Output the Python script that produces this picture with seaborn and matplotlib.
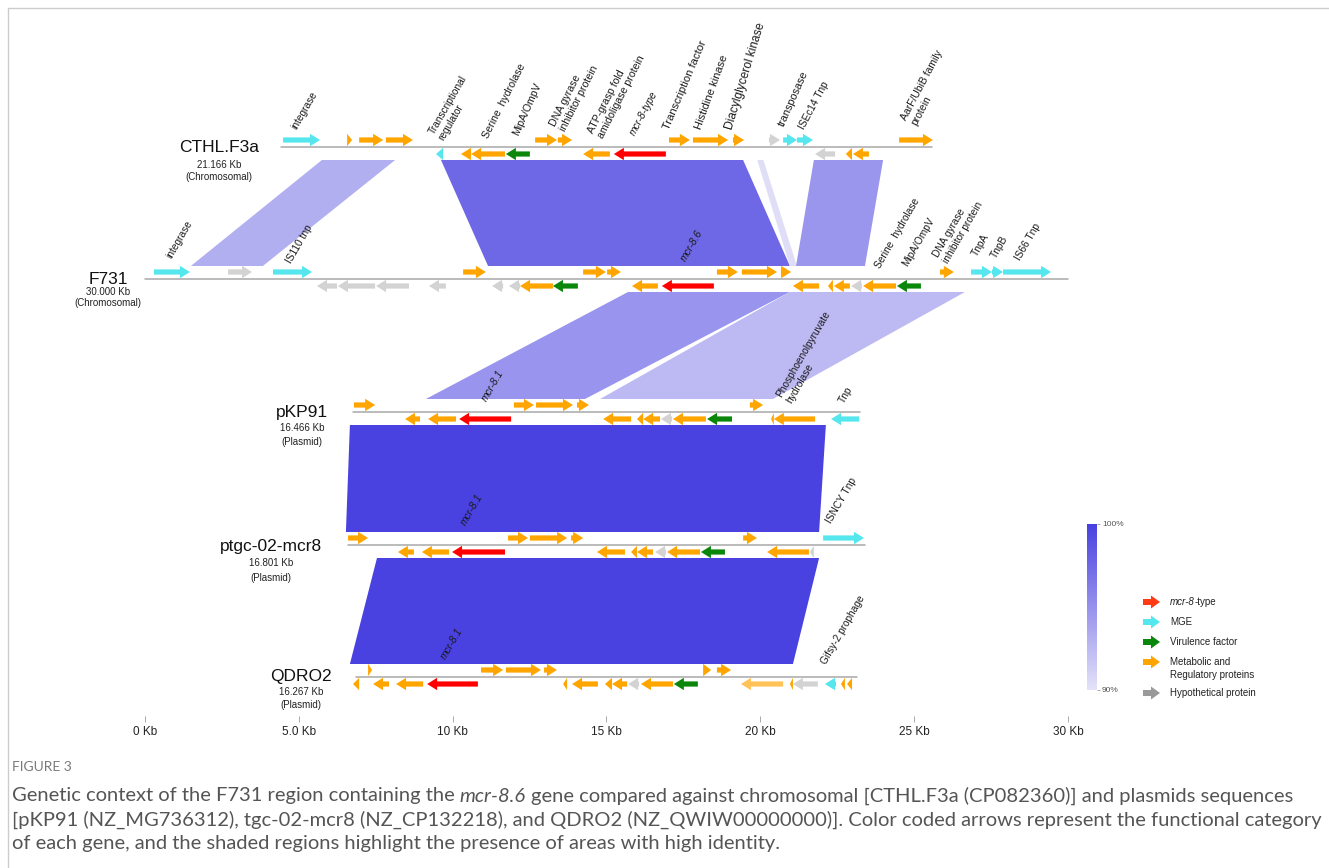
import matplotlib.pyplot as plt
import seaborn as sns
from matplotlib.patches import Polygon
from matplotlib.lines import Line2D
from matplotlib.cm import ScalarMappable
from matplotlib.colors import Normalize

# ---------------- data ----------------
track_names = ['CTHL.F3a', 'F731', 'pKP91', 'ptgc-02-mcr8', 'QDRO2']
track_lengths = [21.166, 30.000, 16.466, 16.801, 16.267]
track_kinds = ['Chromosomal', 'Chromosomal', 'Plasmid', 'Plasmid', 'Plasmid']

# genes: (start Kb, end Kb, strand, category)
genes_cthl = [
    (4.49, 5.69, 1, 'mge'), (6.57, 6.73, 1, 'met'), (6.96, 7.74, 1, 'met'),
    (7.83, 8.71, 1, 'met'), (9.46, 9.69, -1, 'mge'), (10.27, 10.60, -1, 'met'),
    (10.60, 11.70, -1, 'met'), (11.73, 12.51, -1, 'vir'), (12.68, 13.39, 1, 'met'),
    (13.42, 13.88, 1, 'met'), (14.24, 15.11, -1, 'met'), (15.24, 16.93, -1, 'mcr'),
    (17.03, 17.71, 1, 'met'), (17.81, 18.95, 1, 'met'), (19.11, 19.47, 1, 'met'),
    (20.28, 20.64, 1, 'hyp'), (20.74, 21.19, 1, 'mge'), (21.19, 21.71, 1, 'mge'),
    (21.78, 22.43, -1, 'hyp'), (22.78, 22.98, -1, 'met'), (23.01, 23.53, -1, 'met'),
    (24.51, 25.61, 1, 'met'),
]
genes_f731 = [
    (0.29, 1.46, 1, 'mge'), (2.70, 3.48, 1, 'hyp'), (4.16, 5.43, 1, 'mge'),
    (5.59, 6.24, -1, 'hyp'), (6.27, 7.48, -1, 'hyp'), (7.51, 8.58, -1, 'hyp'),
    (9.23, 9.78, -1, 'hyp'), (10.34, 11.08, 1, 'met'), (11.28, 11.64, -1, 'hyp'),
    (11.83, 12.19, -1, 'hyp'), (12.19, 13.26, -1, 'met'), (13.26, 14.07, -1, 'vir'),
    (14.24, 14.98, 1, 'met'), (15.02, 15.47, 1, 'met'), (15.83, 16.67, -1, 'met'),
    (16.80, 18.49, -1, 'mcr'), (18.59, 19.27, 1, 'met'), (19.40, 20.54, 1, 'met'),
    (20.67, 21.00, 1, 'met'), (21.06, 21.91, -1, 'met'), (22.20, 22.36, -1, 'met'),
    (22.39, 22.91, -1, 'met'), (22.95, 23.30, -1, 'hyp'), (23.34, 24.41, -1, 'met'),
    (24.44, 25.22, -1, 'vir'), (25.84, 26.29, 1, 'met'), (26.85, 27.53, 1, 'mge'),
    (27.53, 27.89, 1, 'mge'), (27.89, 29.45, 1, 'mge'),
]
genes_pkp91 = [
    (6.79, 7.48, 1, 'met'), (8.45, 8.94, -1, 'met'), (9.20, 10.11, -1, 'met'),
    (10.21, 11.90, -1, 'mcr'), (11.99, 12.64, 1, 'met'), (12.71, 13.91, 1, 'met'),
    (14.04, 14.43, 1, 'met'), (14.89, 15.80, -1, 'met'), (15.99, 16.19, -1, 'met'),
    (16.19, 16.74, -1, 'met'), (16.77, 17.13, -1, 'hyp'), (17.16, 18.23, -1, 'met'),
    (18.27, 19.08, -1, 'vir'), (19.66, 20.09, 1, 'met'), (20.35, 20.44, -1, 'met'),
    (20.44, 21.78, -1, 'met'), (22.30, 23.21, -1, 'mge'),
]
genes_ptgc = [
    (6.60, 7.25, 1, 'met'), (8.22, 8.74, -1, 'met'), (9.00, 9.88, -1, 'met'),
    (9.98, 11.70, -1, 'mcr'), (11.80, 12.45, 1, 'met'), (12.51, 13.72, 1, 'met'),
    (13.85, 14.24, 1, 'met'), (14.69, 15.60, -1, 'met'), (15.80, 15.99, -1, 'met'),
    (15.99, 16.51, -1, 'met'), (16.58, 16.93, -1, 'hyp'), (16.97, 18.04, -1, 'met'),
    (18.07, 18.85, -1, 'vir'), (19.44, 19.89, 1, 'met'), (20.22, 21.58, -1, 'met'),
    (21.61, 21.74, -1, 'hyp'), (22.04, 23.37, 1, 'mge'),
]
genes_qdro2 = [
    (6.76, 6.96, -1, 'met'), (7.25, 7.38, 1, 'met'), (7.41, 7.93, -1, 'met'),
    (8.16, 9.04, -1, 'met'), (9.17, 10.82, -1, 'mcr'), (10.92, 11.64, 1, 'met'),
    (11.73, 12.87, 1, 'met'), (12.97, 13.39, 1, 'met'), (13.59, 13.72, -1, 'met'),
    (13.88, 14.72, -1, 'met'), (14.95, 15.18, -1, 'met'), (15.18, 15.67, -1, 'met'),
    (15.70, 16.06, -1, 'hyp'), (16.12, 17.16, -1, 'met'), (17.19, 17.97, -1, 'vir'),
    (18.14, 18.40, 1, 'met'), (18.59, 19.05, 1, 'met'), (19.37, 20.74, -1, 'met_light'),
    (20.96, 21.06, -1, 'met'), (21.06, 21.87, -1, 'hyp'), (22.10, 22.46, -1, 'mge'),
    (22.62, 22.75, -1, 'met'), (22.82, 22.98, -1, 'met'),
]
track_genes = [genes_cthl, genes_f731, genes_pkp91, genes_ptgc, genes_qdro2]

# gene labels: (text, position in Kb, italic)
labels_cthl = [
    ('integrase', 4.97, False), ('Transcriptional\nregulator', 9.75, False),
    ('Serine  hydrolase', 11.21, False), ('MipA/OmpV', 12.19, False),
    ('DNA gyrase\ninhibitor protein', 13.72, False),
    ('ATP-grasp fold\namidoligase protein', 14.95, False),
    ('mcr-8-type', 15.99, True), ('Transcription factor', 17.10, False),
    ('Histidine kinase', 18.14, False), ('Diacylglycerol kinase', 19.18, False),
    ('transposase', 20.83, False), ('ISEc14 Tnp', 21.48, False),
    ('AarF/UbiB family\nprotein', 25.12, False),
]
labels_f731 = [
    ('integrase', 0.91, False), ('IS110 tnp', 4.81, False), ('mcr-8.6', 17.65, True),
    ('Serine  hydrolase', 23.95, False), ('MipA/OmpV', 24.83, False),
    ('DNA gyrase\ninhibitor protein', 26.16, False), ('TnpA', 27.11, False),
    ('TnpB', 27.72, False), ('IS66 Tnp', 28.50, False),
]
labels_pkp91 = [
    ('mcr-8.1', 11.18, True), ('Phosphoenolpyruvate\nhydrolase', 21.06, False),
    ('Tnp', 22.78, False),
]
labels_ptgc = [('mcr-8.1', 10.47, True), ('ISNCY Tnp', 22.36, False)]
labels_qdro2 = [('mcr-8.1', 9.82, True), ('Gifsy-2 prophage', 22.20, False)]
track_labels = [labels_cthl, labels_f731, labels_pkp91, labels_ptgc, labels_qdro2]

# shaded identity blocks: (upper track, top start, top end, bottom start, bottom end, identity %)
blocks = [
    (0, 5.75, 8.13, 1.49, 3.83, 93.2),
    (0, 9.62, 19.44, 11.15, 20.96, 97.5),
    (0, 19.90, 20.10, 20.96, 21.19, 90.3),
    (0, 21.74, 23.99, 21.16, 23.40, 94.7),
    (1, 15.70, 20.96, 9.13, 14.30, 94.8),
    (1, 20.96, 26.65, 14.79, 20.41, 92.5),
    (2, 6.66, 22.13, 6.53, 21.91, 99.9),
    (3, 7.54, 21.91, 6.66, 21.06, 99.9),
]

scale_ticks = [0, 5, 10, 15, 20, 25, 30]
scale_labels = ['0 Kb', '5.0 Kb', '10 Kb', '15 Kb', '20 Kb', '25 Kb', '30 Kb']

legend_cats = ['mcr', 'mge', 'vir', 'met', 'hyp']
legend_texts = [[('mcr-8', True), ('-type', False)], [('MGE', False)],
                [('Virulence factor', False)],
                [('Metabolic and\nRegulatory proteins', False)],
                [('Hypothetical protein', False)]]

caption_lines = [
    [('Genetic context of the F731 region containing the ', False), ('mcr-8.6', True),
     (' gene compared against chromosomal [CTHL.F3a (CP082360)] and plasmids sequences', False)],
    [('[pKP91 (NZ_MG736312), tgc-02-mcr8 (NZ_CP132218), and QDRO2 (NZ_QWIW00000000)]. '
      'Color coded arrows represent the functional category', False)],
    [('of each gene, and the shaded regions highlight the presence of areas with high identity.', False)],
]

# ---------------- style / layout ----------------
sns.set_theme(style='white')
plt.rcParams['font.family'] = ['Liberation Sans', 'DejaVu Sans']

gene_colors = {'mcr': '#FF0000', 'mge': '#55E6EE', 'vir': '#0A870A',
               'met': '#FFA500', 'hyp': '#D3D3D3', 'met_light': '#FFC35A'}
legend_colors = {'mcr': '#FF3A14', 'mge': '#55E6EE', 'vir': '#0A870A',
                 'met': '#FFA500', 'hyp': '#999999'}
ident_cmap = sns.blend_palette(['#E4E2F8', '#4840E0'], as_cmap=True)
ident_norm = Normalize(90, 100)

W, H = 1329, 868
X0, PPK = 145, 923 / 30          # pixel of 0 Kb, pixels per Kb
baselines = [147, 279, 412, 545, 677]
label_rise = [[16, 5, 7, 10, 14, 7, 10, 16, 16, 16, 19, 16, 20],
              [19, 14, 16, 9, 11, 14, 21, 19, 17],
              [9, 7, 7], [18, 20], [16, 11]]
# the upper track's labels are set a little steeper / larger in the original
label_rot = [[60, 60, 63, 66, 63, 63, 62, 67, 70, 73, 66, 62, 62],
             [60] * 9, [60] * 3, [60] * 2, [60] * 2]
label_size = [[7.3, 7.3, 7.6, 7.6, 7.6, 7.6, 7.3, 8.0, 8.0, 8.6, 7.8, 7.3, 7.5],
              [7.3] * 9, [7.3] * 3, [7.3] * 2, [7.3] * 2]
name_pos = [(219, 147), (108, 279), (302, 412), (271, 547), (301, 677)]
name_sub = [(18, 30), (13, 24), (16, 30), (16, 31), (15, 28)]

fig = plt.figure(figsize=(W / 100, H / 100), dpi=100)
ax = fig.add_axes([0, 0, 1, 1])
ax.set_xlim(-X0 / PPK, (W - X0) / PPK)
ax.set_ylim(H, 0)
ax.axis('off')
pax = fig.add_axes([0, 0, 1, 1])
pax.set_xlim(0, W)
pax.set_ylim(H, 0)
pax.axis('off')


def arrow_points(x0, x1, strand, yc, head_len, body=2.6, head=6.2):
    hl = min(head_len, x1 - x0)
    if strand > 0:
        tail, base, tip = x0, x1 - hl, x1
    else:
        tail, base, tip = x1, x0 + hl, x0
    return [(tail, yc - body), (base, yc - body), (base, yc - head), (tip, yc),
            (base, yc + head), (base, yc + body), (tail, yc + body)]


# homology blocks
for up, ts, te, bs, be, ident in blocks:
    top = baselines[up] + 13
    bot = baselines[up + 1] - 13
    ax.add_patch(Polygon([(ts, top), (te, top), (be, bot), (bs, bot)], closed=True,
                         facecolor=ident_cmap(ident_norm(ident)), edgecolor='none', zorder=1))

# tracks
for i, name in enumerate(track_names):
    y = baselines[i]
    start = 15 - track_lengths[i] / 2
    ax.plot([start, start + track_lengths[i]], [y, y], color='#a8a8a8', lw=1.1, zorder=2)
    for g0, g1, strand, cat in track_genes[i]:
        pts = arrow_points(g0, g1, strand, y - 7 * strand, 10 / PPK)
        ax.add_patch(Polygon(pts, closed=True, facecolor=gene_colors[cat],
                             edgecolor='none', zorder=3))
    for k, (text, kb, ital) in enumerate(track_labels[i]):
        ax.text(kb, y - label_rise[i][k], text, rotation=label_rot[i][k],
                rotation_mode='anchor', ha='left', va='bottom',
                fontsize=label_size[i][k], style='italic' if ital else 'normal',
                color='#1a1a1a', linespacing=1.15, zorder=4)
    nx, ny = name_pos[i]
    pax.text(nx, ny, name, ha='center', va='center', fontsize=12.5, color='#111111')
    pax.text(nx, ny + name_sub[i][0], f'{track_lengths[i]:.3f} Kb', ha='center',
             va='center', fontsize=7, color='#222222')
    pax.text(nx, ny + name_sub[i][1], f'({track_kinds[i]})', ha='center',
             va='center', fontsize=7, color='#222222')

# scale
sax = fig.add_axes([0, 1 - 716 / H, 1, 1e-4])
sax.set_xlim(-X0 / PPK, (W - X0) / PPK)
sax.set_xticks(scale_ticks)
sax.set_xticklabels(scale_labels)
sax.set_yticks([])
for s in sax.spines.values():
    s.set_visible(False)
sax.patch.set_visible(False)
sax.tick_params(axis='x', bottom=True, direction='out', length=4, width=0.7,
                color='#aaaaaa', labelsize=8.5, labelcolor='#222222', pad=3)

# colorbar
cax = fig.add_axes([1087 / W, 1 - 690 / H, 10 / W, 166 / H])
cb = fig.colorbar(ScalarMappable(norm=ident_norm, cmap=ident_cmap), cax=cax, ticks=[90, 100])
cb.ax.set_yticklabels(['90%', '100%'])
cb.outline.set_visible(False)
cax.tick_params(axis='y', right=True, length=2, width=0.6, color='#999999',
                labelsize=6, labelcolor='#555555', pad=1.5)

renderer = fig.canvas.get_renderer()


def draw_runs(x, y, runs, **kw):
    probe_a = pax.text(0, 0, 'a a', **kw)
    probe_b = pax.text(0, 0, 'aa', **kw)
    space = (probe_a.get_window_extent(renderer).width
             - probe_b.get_window_extent(renderer).width)
    probe_a.remove()
    probe_b.remove()
    for text, ital in runs:
        lead = len(text) - len(text.lstrip(' '))
        trail = len(text) - len(text.rstrip(' '))
        x += lead * space
        t = pax.text(x, y, text.strip(' '), style='italic' if ital else 'normal', **kw)
        x += t.get_window_extent(renderer).width + trail * space
    return x


# legend
legend_y = [602, 622, 642, 662, 693]
for cat, runs, ly in zip(legend_cats, legend_texts, legend_y):
    pax.add_patch(Polygon(arrow_points(1143, 1160, 1, ly, 9, body=3, head=6.5),
                          closed=True, facecolor=legend_colors[cat], edgecolor='none'))
    n_lines = runs[0][0].count('\n') + 1
    draw_runs(1170, ly + 6.5 * (n_lines - 1), runs, ha='left', va='center',
              fontsize=7, color='#222222', linespacing=1.35)

# caption
pax.text(12, 767, 'FIGURE 3', ha='left', va='center', fontsize=10, color='#7a7a7a',
         family=['Lato', 'DejaVu Sans'])
for k, runs in enumerate(caption_lines):
    draw_runs(12, 796 + 24 * k, runs, ha='left', va='center', fontsize=14.5,
              color='#555555', family=['Lato', 'DejaVu Sans'])

# frame lines
fig.add_artist(Line2D([8 / W, 8 / W], [0, 1 - 8 / H], color='#cccccc', lw=1))
fig.add_artist(Line2D([8 / W, 1], [1 - 8 / H, 1 - 8 / H], color='#cccccc', lw=1))

fig.savefig('out.png', dpi=100)
